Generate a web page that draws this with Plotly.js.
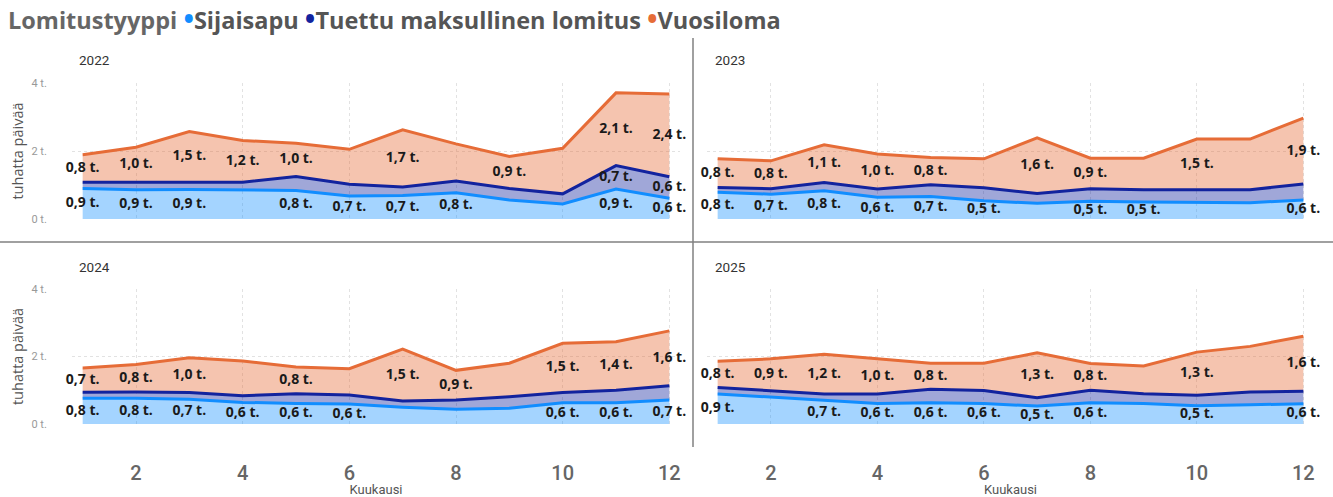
<!DOCTYPE html>
<html>
<head>
<meta charset="utf-8">
<script src="https://cdn.plot.ly/plotly-3.0.1.min.js"></script>
<style>html,body{margin:0;padding:0;background:#fff;}#chart{width:1333px;height:497px;}</style>
</head>
<body>
<div id="chart"></div>
<script>
// ---- data (thousand days) ----
const months = [1,2,3,4,5,6,7,8,9,10,11,12];
const years = ["2022","2023","2024","2025"];
const seriesNames = ["Sijaisapu","Tuettu maksullinen lomitus","Vuosiloma"];
const legendTitle = "Lomitustyyppi";
const yTickVals = [0,2,4];
const yTickText = ["0 t.","2 t.","4 t."];
const xTickVals = [2,4,6,8,10,12];

const sij2022 = [0.90,0.86,0.87,0.86,0.84,0.68,0.69,0.77,0.56,0.44,0.88,0.61];
const tue2022 = [0.18,0.22,0.21,0.22,0.41,0.34,0.25,0.35,0.34,0.30,0.69,0.63];
const vuo2022 = [0.81,1.03,1.49,1.23,0.98,1.03,1.68,1.09,0.94,1.34,2.14,2.44];

const sij2023 = [0.79,0.73,0.83,0.64,0.66,0.54,0.46,0.52,0.50,0.48,0.48,0.56];
const tue2023 = [0.14,0.16,0.24,0.24,0.35,0.38,0.29,0.37,0.36,0.38,0.38,0.47];
const vuo2023 = [0.84,0.82,1.11,1.03,0.80,0.85,1.64,0.90,0.93,1.49,1.49,1.94];

const sij2024 = [0.76,0.76,0.73,0.64,0.61,0.59,0.50,0.44,0.47,0.63,0.63,0.71];
const tue2024 = [0.18,0.19,0.20,0.20,0.29,0.27,0.18,0.27,0.34,0.30,0.37,0.42];
const vuo2024 = [0.72,0.81,1.03,1.03,0.79,0.78,1.54,0.88,0.99,1.46,1.44,1.63];

const sij2025 = [0.89,0.79,0.70,0.61,0.63,0.61,0.53,0.63,0.61,0.54,0.57,0.60];
const tue2025 = [0.19,0.20,0.19,0.28,0.40,0.38,0.25,0.37,0.29,0.31,0.38,0.37];
const vuo2025 = [0.78,0.94,1.18,1.04,0.77,0.81,1.33,0.79,0.82,1.28,1.35,1.63];

// which data labels are shown (others hidden to avoid overlap, as in the original)
const sijShow2022 = [1,1,1,0,1,1,1,1,0,0,1,1];
const tueShow2022 = [0,0,0,0,0,0,0,0,0,0,1,1];
const vuoShow2022 = [1,1,1,1,1,0,1,0,1,0,1,1];
const sijShow2023 = [1,1,1,1,1,1,0,1,1,0,0,1];
const tueShow2023 = [0,0,0,0,0,0,0,0,0,0,0,0];
const vuoShow2023 = [1,1,1,1,1,0,1,1,0,1,0,1];
const sijShow2024 = [1,1,1,1,1,1,0,0,0,1,1,1];
const tueShow2024 = [0,0,0,0,0,0,0,0,0,0,0,0];
const vuoShow2024 = [1,1,1,0,1,0,1,1,0,1,1,1];
const sijShow2025 = [1,0,1,1,1,1,1,1,0,1,0,1];
const tueShow2025 = [0,0,0,0,0,0,0,0,0,0,0,0];
const vuoShow2025 = [1,1,1,1,1,0,1,1,0,1,0,1];

// ---- styling ----
const lineColors = ["#118DFF","#12239E","#E66C37"];
const fillColors = ["rgba(17,141,255,0.38)","rgba(18,35,158,0.40)","rgba(230,108,55,0.40)"];

const yearData = {
  "2022": [[sij2022,tue2022,vuo2022],[sijShow2022,tueShow2022,vuoShow2022]],
  "2023": [[sij2023,tue2023,vuo2023],[sijShow2023,tueShow2023,vuoShow2023]],
  "2024": [[sij2024,tue2024,vuo2024],[sijShow2024,tueShow2024,vuoShow2024]],
  "2025": [[sij2025,tue2025,vuo2025],[sijShow2025,tueShow2025,vuoShow2025]]
};

function fmt(v){ return v.toFixed(1).replace('.', ',') + ' t.'; }

const W = 1333, H = 497;
const px = v => v / W, py = v => 1 - v / H;
const xDomains = [[px(72), px(680)], [px(707), px(1314)]];
const yDomains = [[py(219), py(83)], [py(424), py(289)]];

const traces = [];
const labelFont = {family: "Open Sans, Roboto, sans-serif", size: 14, color: "#1a1a1a", weight: 700};

years.forEach((yr, i) => {
  const ax = i === 0 ? "" : String(i + 1);
  const xa = "x" + ax, ya = "y" + ax;
  const [vals, shows] = yearData[yr];
  vals.forEach((arr, s) => {
    traces.push({
      type: "scatter", mode: "lines", x: months, y: arr, xaxis: xa, yaxis: ya,
      stackgroup: "g" + yr, name: seriesNames[s],
      line: {color: lineColors[s], width: 3}, fillcolor: fillColors[s],
      hoverinfo: "skip", showlegend: false
    });
  });
  const base = months.map(() => 0);
  vals.forEach((arr, s) => {
    const yc = arr.map((v, k) => base[k] + v / 2);
    const txt = arr.map((v, k) => shows[s][k] ? fmt(v) : "");
    arr.forEach((v, k) => base[k] += v);
    traces.push({
      type: "scatter", mode: "text", x: months, y: yc, text: txt, xaxis: xa, yaxis: ya,
      textposition: "middle center", textfont: labelFont, cliponaxis: false,
      hoverinfo: "skip", showlegend: false
    });
  });
});

const gridCommon = {showgrid: true, gridcolor: "#E2E2E2", griddash: "dot", gridwidth: 1, zeroline: false, showline: false, fixedrange: true};
const layout = {
  width: W, height: H, margin: {l: 0, r: 0, t: 0, b: 0},
  paper_bgcolor: "#fff", plot_bgcolor: "rgba(0,0,0,0)",
  showlegend: false, separators: ", ",
  font: {family: "Roboto, sans-serif", color: "#444"},
  shapes: [
    {type: "line", xref: "paper", yref: "paper", x0: px(693), x1: px(693), y0: py(447), y1: py(38), line: {color: "#808080", width: 1.5}},
    {type: "line", xref: "paper", yref: "paper", x0: 0, x1: 1, y0: py(242), y1: py(242), line: {color: "#808080", width: 1.5}}
  ],
  annotations: []
};

years.forEach((yr, i) => {
  const ax = i === 0 ? "" : String(i + 1);
  const col = i % 2, row = Math.floor(i / 2);
  const xaKey = "xaxis" + ax, yaKey = "yaxis" + ax;
  const bottom = row === 1, left = col === 0;
  layout[xaKey] = Object.assign({}, gridCommon, {
    domain: xDomains[col], range: [0.8, 12.2], anchor: "y" + ax,
    tickvals: xTickVals, showticklabels: bottom,
    ticks: bottom ? "outside" : "", ticklen: 31, tickcolor: "rgba(0,0,0,0)",
    tickfont: {family: "Roboto, sans-serif", size: 20, color: "#666", weight: 500},
    title: bottom ? {text: "Kuukausi", font: {family: "Roboto, sans-serif", size: 13, color: "#555"}, standoff: 5} : {text: ""}
  });
  layout[yaKey] = Object.assign({}, gridCommon, {
    domain: yDomains[row], range: [0, 4], anchor: "x" + ax,
    tickvals: yTickVals, ticktext: yTickText, showticklabels: left,
    ticks: left ? "outside" : "", ticklen: 22, tickcolor: "rgba(0,0,0,0)",
    tickfont: {family: "Roboto, sans-serif", size: 11, color: "#999"},
    title: left ? {text: "tuhatta päivää", font: {family: "Open Sans, sans-serif", size: 14.5, color: "#555"}, standoff: 4} : {text: ""}
  });
  layout.annotations.push({
    xref: "paper", yref: "paper", x: px(col === 0 ? 77 : 713), y: py(row === 0 ? 60 : 267),
    xanchor: "left", yanchor: "middle", showarrow: false, text: yr,
    font: {family: "Roboto, sans-serif", size: 13.5, color: "#333"}
  });
});

// legend-like header
let legendText = '<span style="color:#666">' + legendTitle + '</span> ';
seriesNames.forEach((n, s) => {
  legendText += '<span style="color:' + lineColors[s] + ';font-size:28px">\u2022</span><span style="color:#555">' + n + '</span>' + (s < seriesNames.length - 1 ? ' ' : '');
});
layout.annotations.push({
  xref: "paper", yref: "paper", x: px(6), y: py(18), xanchor: "left", yanchor: "middle",
  showarrow: false, text: "<b>" + legendText + "</b>",
  font: {family: "Open Sans, sans-serif", size: 23.5, color: "#555"}
});

Plotly.newPlot("chart", traces, layout, {staticPlot: true, displayModeBar: false});
</script>
</body>
</html>
